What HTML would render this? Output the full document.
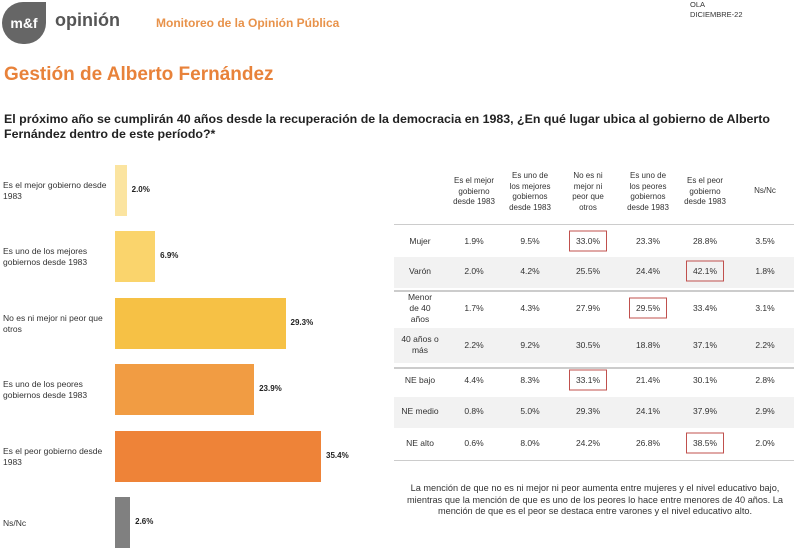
<!DOCTYPE html>
<html><head><meta charset="utf-8"><style>
body{margin:0;width:800px;height:551px;background:#fff;font-family:"Liberation Sans",sans-serif;position:relative;overflow:hidden;color:#222}
.a{position:absolute}
.lbl{position:absolute;left:3px;font-size:8.5px;line-height:11px;color:#333}
.val{position:absolute;font-size:8px;font-weight:bold;color:#222}
.c{position:absolute;font-size:8.5px;color:#333;text-align:center;transform:translateX(-50%)}
.h{position:absolute;font-size:8px;line-height:10.5px;color:#333;text-align:center;transform:translateX(-50%);width:64px}
.box{position:absolute;border:1.3px solid #c0504d;width:36px;height:19px;transform:translate(-50%,-50%)}
</style></head><body>
<div class="a" style="left:2px;top:2px;width:44px;height:42px;background:#666;border-radius:22px 0 22px 22px;color:#fff;font-size:14px;font-weight:bold;line-height:42px;text-align:center">m&amp;f</div>
<div class="a" style="left:55px;top:10px;font-size:18px;color:#555;font-weight:bold">opinión</div>
<div class="a" style="left:156px;top:16px;font-size:12px;color:#e8924a;font-weight:bold">Monitoreo de la Opinión Pública</div>
<div class="a" style="left:690px;top:0px;font-size:7.5px;line-height:10px;color:#333">OLA<br>DICIEMBRE-22</div>
<div class="a" style="left:4px;top:64px;font-size:19px;color:#e8823a;font-weight:bold">Gestión de Alberto Fernández</div>
<div class="a" style="left:4px;top:112px;width:796px;white-space:nowrap;font-size:12.4px;line-height:14.5px;font-weight:bold;color:#222">El próximo año se cumplirán 40 años desde la recuperación de la democracia en 1983, ¿En qué lugar ubica al gobierno de Alberto<br>Fernández dentro de este período?*</div>
<div id="chart"></div>
<div id="table"></div>
<div class="a" style="left:394px;top:483px;width:402px;text-align:center;font-size:9.2px;line-height:11.5px;color:#333">La mención de que no es ni mejor ni peor aumenta entre mujeres y el nivel educativo bajo, mientras que la mención de que es uno de los peores lo hace entre menores de 40 años. La mención de que es el peor se destaca entre varones y el nivel educativo alto.</div>
<script>
const categories=["Es el mejor gobierno desde 1983","Es uno de los mejores gobiernos desde 1983","No es ni mejor ni peor que otros","Es uno de los peores gobiernos desde 1983","Es el peor gobierno desde 1983","Ns/Nc"];
const values=[2.0,6.9,29.3,23.9,35.4,2.6];
const colors=["#fbe4a0","#fad46c","#f6c145","#f19c43","#ee8338","#808080"];
const x0=115,pxPer=5.82,y0=165,step=66.4,bh=51;
const xs=v=>v*pxPer;
const chart=document.getElementById('chart');
categories.forEach((c,i)=>{
  const y=y0+i*step;
  const b=document.createElement('div');b.className='a';
  
  
  b.style.cssText=`left:${x0}px;top:${y}px;width:${xs(values[i])}px;height:${bh}px;background:${colors[i]}`;
  chart.appendChild(b);
  const l=document.createElement('div');l.className='lbl';
  
  
  l.style.top=(y+(i==5?21:15))+'px';l.style.width='108px';l.textContent=c;chart.appendChild(l);
  const v=document.createElement('div');v.className='val';
  
  
  v.style.left=(x0+xs(values[i])+5)+'px';v.style.top=(y+20)+'px';v.textContent=values[i].toFixed(1)+'%';chart.appendChild(v);
});
const headers=["Es el mejor gobierno desde 1983","Es uno de los mejores gobiernos desde 1983","No es ni mejor ni peor que otros","Es uno de los peores gobiernos desde 1983","Es el peor gobierno desde 1983","Ns/Nc"];
const rowLabels=["Mujer","Varón","Menor de 40 años","40 años o más","NE bajo","NE medio","NE alto"];
const rows=[[1.9,9.5,33.0,23.3,28.8,3.5],[2.0,4.2,25.5,24.4,42.1,1.8],[1.7,4.3,27.9,29.5,33.4,3.1],[2.2,9.2,30.5,18.8,37.1,2.2],[4.4,8.3,33.1,21.4,30.1,2.8],[0.8,5.0,29.3,24.1,37.9,2.9],[0.6,8.0,24.2,26.8,38.5,2.0]];
const highlights=[[0,2],[1,4],[2,3],[4,2],[6,4]];
const colX=[474,530,588,648,705,765],labX=420;
const rowY=[241,271,308,345,380,411,443];
const shade=[[257,288],[328,363],[397,428]];
const t=document.getElementById('table');
shade.forEach(s=>{const d=document.createElement('div');d.className='a';


d.style.cssText=`left:394px;top:${s[0]}px;width:400px;height:${s[1]-s[0]}px;background:#f2f2f2`;t.appendChild(d);});
[[224,1],[290,2],[367,2],[460,1]].forEach(l=>{const d=document.createElement('div');d.className='a';


d.style.cssText=`left:394px;top:${l[0]}px;width:400px;height:${l[1]}px;background:#ccc`;t.appendChild(d);});
const hLines=[[3,"Es el mejor<br>gobierno<br>desde 1983",176],[4,"Es uno de<br>los mejores<br>gobiernos<br>desde 1983",171],[4,"No es ni<br>mejor ni<br>peor que<br>otros",171],[4,"Es uno de<br>los peores<br>gobiernos<br>desde 1983",171],[3,"Es el peor<br>gobierno<br>desde 1983",176],[1,"Ns/Nc",186]];
hLines.forEach((h,i)=>{const d=document.createElement('div');d.className='h';


d.style.left=colX[i]+'px';d.style.top=h[2]+'px';d.innerHTML=h[1];t.appendChild(d);});
rowLabels.forEach((r,i)=>{const d=document.createElement('div');d.className='h';


d.style.fontSize='8.5px';d.style.lineHeight='11px';d.style.width='50px';
const lines=r=="Menor de 40 años"?3:(r=="40 años o más"?2:1);
d.innerHTML=r=="Menor de 40 años"?"Menor<br>de 40<br>años":(r=="40 años o más"?"40 años o<br>más":r);
d.style.left=labX+'px';d.style.top=(rowY[i]-lines*5.5)+'px';t.appendChild(d);
rows[i].forEach((v,j)=>{const c=document.createElement('div');c.className='c';


c.style.left=colX[j]+'px';c.style.top=(rowY[i]-5)+'px';c.textContent=v.toFixed(1)+'%';t.appendChild(c);});
});
highlights.forEach(h=>{const b=document.createElement('div');b.className='box';


b.style.left=colX[h[1]]+'px';b.style.top=rowY[h[0]]+'px';t.appendChild(b);});
</script>
</body></html>
